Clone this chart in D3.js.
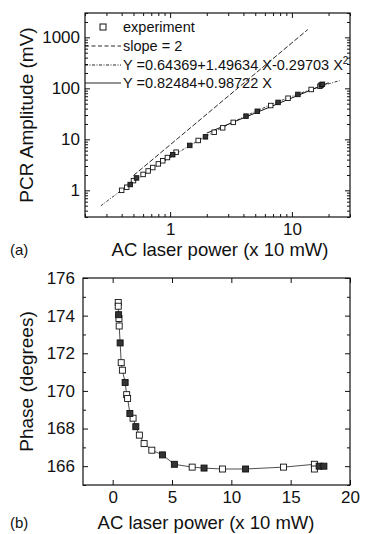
<!DOCTYPE html>
<html>
<head>
<meta charset="utf-8">
<script src="https://cdn.jsdelivr.net/npm/d3@7"></script>
<style>
  body { margin: 0; background: #fff; }
  svg text { font-family: "Liberation Sans", Arial, sans-serif; fill: #111; }
  .tick line { stroke: #111; }
</style>
</head>
<body>
<script>
// panel (a): PCR amplitude, two overlapping runs (open / filled squares)
var ampPowerOpen = [0.40, 0.44, 0.50, 0.60, 0.66, 0.72, 0.80, 0.87, 0.95, 1.12, 1.70, 2.30, 2.70, 3.30, 6.70, 9.30, 14.4, 17.0];
var ampOpen = [1.00, 1.15, 1.55, 2.05, 2.40, 2.80, 3.30, 3.80, 4.40, 5.60, 9.50, 13.8, 16.8, 21.5, 46, 64, 95, 110];
var ampPowerFilled = [0.47, 0.53, 1.05, 1.45, 1.95, 4.20, 5.20, 7.70, 11.2, 17.4, 17.8];
var ampFilled = [1.30, 1.75, 5.0, 7.6, 11.2, 28.5, 35.5, 53, 76, 116, 120];

// fits shown in the legend (log-log)
var quadCoef = [0.64369, 1.49634, -0.29703];
var linCoef = [0.82484, 0.98722];
var quadRange = [0.27, 25];
var linRange = [2, 20];
var slope2Ends = [[0.5, 1.95], [13.5, 1420]];

// panel (b): phase
var phasePowerOpen = [0.47, 0.47, 0.53, 0.55, 0.72, 0.82, 1.18, 1.26, 1.72, 2.25, 2.65, 3.30, 6.70, 9.25, 14.4, 17.0, 17.0];
var phaseOpen = [174.70, 174.50, 173.85, 173.45, 171.50, 171.10, 169.80, 169.60, 168.55, 167.65, 167.20, 166.85, 165.95, 165.85, 165.95, 166.10, 165.85];
var phasePowerFilled = [0.50, 0.63, 1.05, 1.45, 1.95, 4.20, 5.20, 7.70, 11.2, 17.4, 17.8];
var phaseFilled = [174.05, 172.55, 170.45, 168.80, 168.10, 166.60, 166.10, 165.90, 165.85, 166.00, 166.00];

var ampXTicks = [1, 10];
var ampYTicks = [1, 10, 100, 1000];
var phaseXTicks = [0, 5, 10, 15, 20];
var phaseYTicks = [166, 168, 170, 172, 174, 176];
var phaseYMinor = [165, 167, 169, 171, 173, 175];

var legendLabels = ["experiment", "slope = 2", "Y =0.64369+1.49634 X-0.29703 X", "Y =0.82484+0.98722 X"];

(function () {
    var svg = d3.select("body").append("svg")
        .attr("width", 367)
        .attr("height", 534);

    function zip(xs, ys) {
        return xs.map(function (x, i) { return [x, ys[i]]; });
    }

    function frameAxes(g, x, y, w, h, o) {
        g.append("rect")
            .attr("width", w).attr("height", h)
            .attr("fill", "none").attr("stroke", "#111").attr("stroke-width", 1.2);

        g.append("g").attr("transform", "translate(0," + h + ")")
            .call(d3.axisBottom(x).tickValues(o.xTicks).tickSize(-5).tickPadding(o.xPad).tickFormat(o.xFmt))
            .call(function (a) { a.select(".domain").remove(); a.selectAll("text").attr("font-size", o.fs); });
        g.append("g")
            .call(d3.axisTop(x).tickValues(o.xTicks).tickSize(-5).tickFormat(""))
            .call(function (a) { a.select(".domain").remove(); });
        g.append("g")
            .call(d3.axisLeft(y).tickValues(o.yTicks).tickSize(-5).tickPadding(o.yPad).tickFormat(o.yFmt))
            .call(function (a) { a.select(".domain").remove(); a.selectAll("text").attr("font-size", o.fs); });
        g.append("g").attr("transform", "translate(" + w + ",0)")
            .call(d3.axisRight(y).tickValues(o.yTicks).tickSize(-5).tickFormat(""))
            .call(function (a) { a.select(".domain").remove(); });

        if (o.xMinor) {
            g.append("g").attr("transform", "translate(0," + h + ")")
                .call(d3.axisBottom(x).tickValues(o.xMinor).tickSize(-3).tickFormat(""))
                .call(function (a) { a.select(".domain").remove(); });
            g.append("g")
                .call(d3.axisTop(x).tickValues(o.xMinor).tickSize(-3).tickFormat(""))
                .call(function (a) { a.select(".domain").remove(); });
        }
        if (o.yMinor) {
            g.append("g")
                .call(d3.axisLeft(y).tickValues(o.yMinor).tickSize(-3).tickFormat(""))
                .call(function (a) { a.select(".domain").remove(); });
            g.append("g").attr("transform", "translate(" + w + ",0)")
                .call(d3.axisRight(y).tickValues(o.yMinor).tickSize(-3).tickFormat(""))
                .call(function (a) { a.select(".domain").remove(); });
        }
    }

    function squares(g, pts, x, y, s, fill) {
        g.selectAll(null)
            .data(pts)
            .enter()
              .append("rect")
                .attr("x", function (d) { return x(d[0]) - s / 2; })
                .attr("y", function (d) { return y(d[1]) - s / 2; })
                .attr("width", s).attr("height", s)
                .attr("fill", fill)
                .attr("stroke", "#111").attr("stroke-width", 0.9);
    }

    // ---------- panel (a) ----------
    var aL = 85, aT = 13, aW = 265, aH = 204;
    var xA = d3.scaleLog().domain([0.2, 30]).range([0, aW]);
    var yA = d3.scaleLog().domain([0.3, 3000]).range([aH, 0]);
    var ga = svg.append("g").attr("transform", "translate(" + aL + "," + aT + ")");

    frameAxes(ga, xA, yA, aW, aH, {
        xTicks: ampXTicks, yTicks: ampYTicks, fs: 17, xPad: 6, yPad: 5,
        xFmt: d3.format("d"), yFmt: d3.format("d"),
        xMinor: xA.ticks().filter(function (v) { return ampXTicks.indexOf(v) < 0; }),
        yMinor: yA.ticks().filter(function (v) { return ampYTicks.indexOf(v) < 0; })
    });

    var line = d3.line()
        .x(function (d) { return xA(d[0]); })
        .y(function (d) { return yA(d[1]); });

    var lq = d3.range(Math.log10(quadRange[0]), Math.log10(quadRange[1]) + 1e-9, 0.02);
    var quadPts = lq.map(function (L) {
        return [Math.pow(10, L), Math.pow(10, quadCoef[0] + quadCoef[1] * L + quadCoef[2] * L * L)];
    });
    var linPts = [linRange[0], linRange[1]].map(function (X) {
        return [X, Math.pow(10, linCoef[0] + linCoef[1] * Math.log10(X))];
    });

    ga.append("path").datum(slope2Ends).attr("d", line)
        .attr("fill", "none").attr("stroke", "#111").attr("stroke-width", 0.9)
        .attr("stroke-dasharray", "5,2");
    ga.append("path").datum(quadPts).attr("d", line)
        .attr("fill", "none").attr("stroke", "#222").attr("stroke-width", 0.9)
        .attr("stroke-dasharray", "3,1.5,1,1.5");
    ga.append("path").datum(linPts).attr("d", line)
        .attr("fill", "none").attr("stroke", "#111").attr("stroke-width", 1);

    squares(ga, zip(ampPowerOpen, ampOpen), xA, yA, 4.5, "#fff");
    squares(ga, zip(ampPowerFilled, ampFilled), xA, yA, 4.5, "#333");

    // legend
    var lg = ga.append("g");
    var rowY = [14, 33, 52, 70];
    var dashes = [null, "4,2.5", "3,1.5,1,1.5", null];
    lg.append("rect").attr("x", 15).attr("y", rowY[0] - 3).attr("width", 6).attr("height", 6)
        .attr("fill", "#fff").attr("stroke", "#111");
    [1, 2, 3].forEach(function (i) {
        lg.append("line").attr("x1", 0).attr("x2", 36).attr("y1", rowY[i]).attr("y2", rowY[i])
            .attr("stroke", "#111").attr("stroke-width", 0.9)
            .attr("stroke-dasharray", dashes[i]);
    });
    legendLabels.forEach(function (t, i) {
        var tx = lg.append("text").attr("x", 38).attr("y", rowY[i] + 5)
            .attr("font-size", 14.5).text(t);
        if (i === 2) {
            tx.append("tspan").attr("dy", -6).attr("font-size", 10).text("2");
        }
    });

    svg.append("text").attr("transform", "translate(33," + (aT + aH / 2) + ") rotate(-90)")
        .attr("text-anchor", "middle").attr("font-size", 19).text("PCR Amplitude (mV)");
    svg.append("text").attr("x", 220).attr("y", 256)
        .attr("text-anchor", "middle").attr("font-size", 18.5).text("AC laser power (x 10 mW)");
    svg.append("text").attr("x", 10).attr("y", 255).attr("font-size", 15).text("(a)");

    // ---------- panel (b) ----------
    var bL = 83, bT = 278, bW = 267, bH = 207;
    var xB = d3.scaleLinear().domain([-2.5, 20]).range([0, bW]);
    var yB = d3.scaleLinear().domain([165, 176]).range([bH, 0]);
    var gb = svg.append("g").attr("transform", "translate(" + bL + "," + bT + ")");

    frameAxes(gb, xB, yB, bW, bH, {
        xTicks: phaseXTicks, yTicks: phaseYTicks, fs: 17, xPad: 6, yPad: 8,
        xFmt: d3.format("d"), yFmt: d3.format("d"),
        yMinor: phaseYMinor
    });

    var allPhase = zip(phasePowerOpen, phaseOpen).concat(zip(phasePowerFilled, phaseFilled))
        .sort(function (a, b) { return a[0] - b[0] || b[1] - a[1]; });

    gb.append("path").datum(allPhase)
        .attr("d", d3.line()
            .x(function (d) { return xB(d[0]); })
            .y(function (d) { return yB(d[1]); }))
        .attr("fill", "none").attr("stroke", "#222").attr("stroke-width", 0.8);

    squares(gb, zip(phasePowerOpen, phaseOpen), xB, yB, 6, "#fff");
    squares(gb, zip(phasePowerFilled, phaseFilled), xB, yB, 6, "#333");

    svg.append("text").attr("transform", "translate(33," + (bT + bH / 2) + ") rotate(-90)")
        .attr("text-anchor", "middle").attr("font-size", 19).text("Phase (degrees)");
    svg.append("text").attr("x", 206).attr("y", 529)
        .attr("text-anchor", "middle").attr("font-size", 18.5).text("AC laser power (x 10 mW)");
    svg.append("text").attr("x", 10).attr("y", 528).attr("font-size", 15).text("(b)");
})();
</script>
</body>
</html>
